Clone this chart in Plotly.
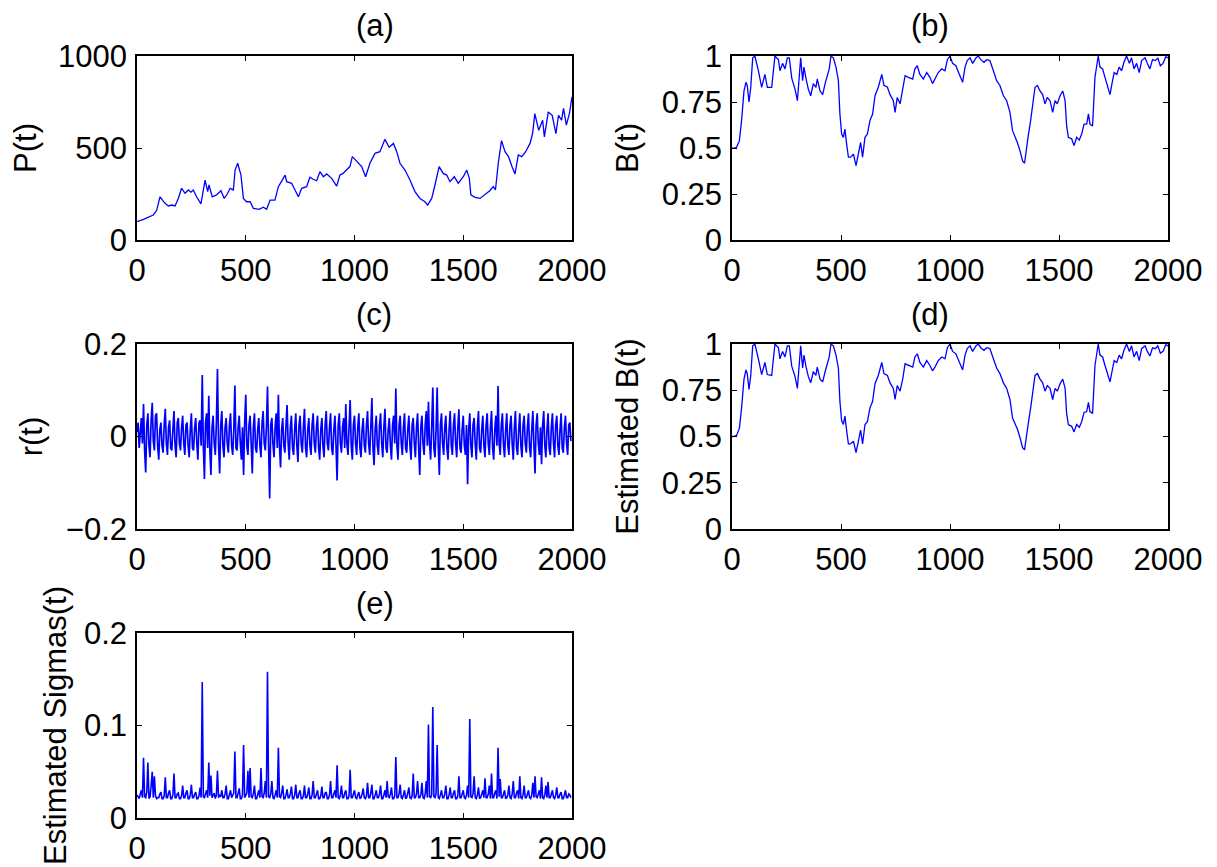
import plotly.graph_objects as go

# (a) price path
t_price = [0, 15, 30, 45, 60, 75, 90, 106, 118, 129,
           144, 160, 175, 190, 205, 221, 236, 248, 259, 274,
           294, 313, 325, 331, 346, 366, 386, 401, 415, 428,
           443, 451, 463, 478, 489, 504, 520, 535, 561, 581,
           596, 612, 634, 650, 665, 681, 688, 711, 742, 757,
           780, 795, 810, 826, 841, 857, 872, 895, 918, 933,
           947, 963, 979, 990, 1010, 1033, 1051, 1071, 1094, 1117,
           1140, 1159, 1179, 1194, 1209, 1232, 1255, 1278, 1301, 1324,
           1336, 1355, 1370, 1389, 1408, 1424, 1439, 1459, 1477, 1500,
           1516, 1528, 1535, 1554, 1577, 1599, 1622, 1638, 1648, 1661,
           1676, 1692, 1708, 1724, 1738, 1753, 1769, 1787, 1807, 1819,
           1829, 1847, 1865, 1873, 1891, 1909, 1926, 1938, 1952, 1961,
           1974, 1988, 2000]
price = [100, 105, 112, 120, 127, 136, 160, 235, 215, 199,
         185, 190, 185, 226, 281, 254, 272, 260, 272, 235,
         196, 326, 263, 299, 235, 245, 268, 226, 250, 281,
         272, 380, 417, 353, 226, 208, 208, 172, 167, 178,
         167, 217, 217, 290, 320, 353, 317, 308, 235, 281,
         290, 341, 330, 322, 371, 344, 359, 335, 293, 353,
         362, 380, 399, 453, 426, 399, 344, 417, 471, 480,
         547, 504, 525, 480, 417, 380, 326, 263, 226, 208,
         190, 226, 299, 399, 362, 353, 317, 344, 308, 344,
         380, 335, 245, 232, 226, 245, 268, 290, 272, 417,
         540, 480, 453, 399, 359, 462, 453, 480, 525, 580,
         687, 596, 651, 560, 696, 678, 578, 678, 651, 715,
         624, 687, 778]

# (b) B(t) and (d) estimated B(t)
t_b = [0, 6, 21, 34, 44, 55, 64, 70, 78, 86,
       95, 105, 121, 136, 151, 162, 182, 190, 197, 213,
       220, 232, 243, 254, 263, 274, 289, 300, 309, 315,
       324, 330, 339, 350, 361, 373, 385, 391, 404, 416,
       427, 437, 446, 454, 465, 477, 488, 495, 503, 511,
       518, 526, 534, 544, 557, 569, 580, 590, 599, 610,
       621, 633, 645, 656, 671, 687, 697, 713, 725, 740,
       748, 758, 771, 783, 794, 809, 829, 839, 850, 862,
       878, 893, 908, 920, 931, 946, 962, 977, 988, 1000,
       1012, 1027, 1043, 1058, 1069, 1079, 1092, 1104, 1119, 1130,
       1141, 1156, 1168, 1183, 1199, 1214, 1229, 1245, 1260, 1275,
       1287, 1300, 1309, 1321, 1333, 1342, 1352, 1359, 1370, 1379,
       1390, 1401, 1413, 1425, 1436, 1446, 1459, 1471, 1482, 1492,
       1505, 1517, 1528, 1535, 1543, 1558, 1569, 1581, 1593, 1604,
       1615, 1627, 1635, 1642, 1654, 1665, 1673, 1680, 1688, 1700,
       1711, 1722, 1734, 1743, 1753, 1765, 1776, 1787, 1798, 1810,
       1823, 1833, 1844, 1856, 1868, 1879, 1895, 1905, 1917, 1929,
       1942, 1953, 1965, 1977, 1990, 2000]
b_true = [0.50, 0.498, 0.504, 0.54, 0.65, 0.81, 0.857, 0.84, 0.75, 0.83,
          0.99, 1.0, 0.92, 0.83, 0.90, 0.83, 0.83, 0.94, 1.0, 0.98,
          0.92, 0.96, 0.93, 0.99, 0.99, 0.88, 0.82, 0.757, 0.90, 0.99,
          0.866, 0.94, 0.88, 0.82, 0.784, 0.85, 0.83, 0.875, 0.81, 0.79,
          0.85, 0.89, 0.93, 1.0, 0.99, 0.94, 0.866, 0.685, 0.576, 0.558,
          0.603, 0.52, 0.45, 0.45, 0.467, 0.404, 0.467, 0.53, 0.45, 0.558,
          0.576, 0.65, 0.685, 0.784, 0.83, 0.90, 0.84, 0.83, 0.79, 0.757,
          0.694, 0.775, 0.74, 0.81, 0.893, 0.884, 0.875, 0.93, 0.947, 0.90,
          0.875, 0.91, 0.884, 0.85, 0.875, 0.91, 0.93, 0.92, 0.98, 1.0,
          0.96, 0.947, 0.90, 0.857, 0.94, 0.975, 0.99, 0.96, 0.99, 1.0,
          0.98, 0.966, 0.98, 0.975, 0.92, 0.866, 0.84, 0.784, 0.757, 0.694,
          0.594, 0.558, 0.53, 0.486, 0.43, 0.417, 0.52, 0.567, 0.65, 0.74,
          0.83, 0.84, 0.81, 0.79, 0.74, 0.775, 0.757, 0.694, 0.757, 0.74,
          0.784, 0.81, 0.757, 0.62, 0.558, 0.55, 0.513, 0.558, 0.543, 0.576,
          0.63, 0.63, 0.685, 0.63, 0.62, 0.884, 0.94, 1.0, 0.94, 0.93,
          0.884, 0.84, 0.79, 0.85, 0.91, 0.90, 0.94, 0.92, 0.966, 1.0,
          0.96, 0.99, 0.93, 0.96, 0.91, 0.975, 0.99, 0.96, 0.93, 0.98,
          0.975, 0.99, 0.947, 0.96, 0.996, 0.99]
b_est = [0.50, 0.50, 0.506, 0.545, 0.655, 0.81, 0.86, 0.84, 0.755, 0.83,
         0.99, 1.0, 0.92, 0.835, 0.90, 0.835, 0.83, 0.94, 1.0, 0.98,
         0.92, 0.96, 0.93, 0.99, 0.99, 0.88, 0.825, 0.76, 0.90, 0.99,
         0.87, 0.94, 0.88, 0.825, 0.79, 0.85, 0.83, 0.875, 0.81, 0.795,
         0.85, 0.89, 0.93, 1.0, 0.99, 0.94, 0.87, 0.69, 0.585, 0.565,
         0.61, 0.53, 0.46, 0.46, 0.475, 0.413, 0.475, 0.535, 0.46, 0.565,
         0.58, 0.655, 0.69, 0.785, 0.83, 0.90, 0.84, 0.83, 0.79, 0.76,
         0.70, 0.775, 0.745, 0.81, 0.893, 0.884, 0.875, 0.93, 0.947, 0.90,
         0.875, 0.91, 0.884, 0.855, 0.875, 0.91, 0.93, 0.92, 0.98, 1.0,
         0.96, 0.947, 0.90, 0.86, 0.94, 0.975, 0.99, 0.96, 0.99, 1.0,
         0.98, 0.966, 0.98, 0.975, 0.92, 0.87, 0.84, 0.79, 0.76, 0.70,
         0.60, 0.565, 0.54, 0.495, 0.44, 0.428, 0.525, 0.57, 0.655, 0.74,
         0.83, 0.84, 0.81, 0.79, 0.745, 0.775, 0.76, 0.70, 0.76, 0.745,
         0.785, 0.81, 0.76, 0.625, 0.565, 0.555, 0.525, 0.565, 0.55, 0.58,
         0.63, 0.635, 0.685, 0.635, 0.625, 0.884, 0.94, 1.0, 0.94, 0.93,
         0.884, 0.84, 0.795, 0.85, 0.91, 0.90, 0.94, 0.92, 0.966, 1.0,
         0.96, 0.99, 0.93, 0.96, 0.91, 0.975, 0.99, 0.96, 0.935, 0.98,
         0.975, 0.99, 0.95, 0.96, 0.996, 0.99]

# (c) returns and (e) estimated sigmas, one reading every 5 steps
t_step = list(range(0, 2000, 5))
returns = [
    0.01, 0.03, -0.025, 0.02, 0.04, -0.015, 0.07, -0.03, -0.078, 0.025, 0.05, -0.02, -0.045, 0.035, 0.073, -0.01, -0.03, 0.045, 0.05, -0.02,
    -0.05, 0.015, 0.03, -0.02, -0.035, 0.025, 0.06, -0.015, -0.04, 0.02, 0.035, -0.025, -0.03, 0.015, 0.055, -0.02, -0.045, 0.03, 0.04, -0.015,
    -0.03, 0.02, 0.045, -0.015, -0.04, 0.025, 0.03, -0.02, -0.045, 0.015, 0.05, -0.025, -0.03, 0.02, 0.04, -0.015, -0.05, 0.03, 0.035, -0.02,
    0.133, -0.02, -0.092, 0.03, 0.05, -0.025, 0.088, -0.03, -0.083, 0.02, 0.045, -0.015, -0.04, 0.03, 0.146, -0.02, -0.08, 0.025, 0.055, -0.02,
    -0.045, 0.02, 0.04, -0.015, -0.035, 0.025, 0.05, -0.02, -0.04, 0.015, 0.11, -0.025, -0.03, 0.02, 0.045, -0.015, -0.05, 0.02, -0.083, 0.03,
    0.09, -0.02, -0.04, 0.025, 0.045, -0.015, -0.08, 0.02, 0.05, -0.025, -0.035, 0.015, 0.04, -0.02, -0.045, 0.03, 0.055, -0.015, -0.03, 0.02,
    0.108, -0.02, -0.134, 0.025, 0.04, -0.015, -0.045, 0.02, 0.05, -0.025, 0.09, -0.02, -0.067, 0.015, 0.04, -0.02, -0.035, 0.025, 0.068, -0.015,
    -0.05, 0.02, 0.045, -0.025, -0.04, 0.015, 0.05, -0.02, -0.055, 0.025, 0.045, -0.015, -0.035, 0.02, 0.06, -0.025, -0.045, 0.015, 0.04, -0.02,
    -0.04, 0.025, 0.05, -0.015, -0.035, 0.02, 0.045, -0.025, -0.05, 0.015, 0.04, -0.02, -0.045, 0.025, 0.055, -0.015, -0.03, 0.02, 0.05, -0.025,
    -0.04, 0.015, 0.045, -0.02, -0.095, 0.025, 0.05, -0.015, -0.035, 0.02, 0.04, -0.025, 0.07, -0.015, -0.04, 0.02, 0.079, -0.02, -0.05, 0.025,
    0.045, -0.015, -0.04, 0.02, 0.05, -0.025, -0.045, 0.015, 0.04, -0.02, -0.035, 0.025, 0.055, -0.015, -0.04, 0.02, 0.083, -0.025, -0.062, 0.015,
    0.045, -0.02, -0.04, 0.025, 0.05, -0.015, -0.045, 0.02, 0.06, -0.025, -0.035, 0.015, 0.04, -0.02, -0.05, 0.025, 0.045, -0.015, 0.104, -0.02,
    -0.05, 0.025, 0.045, -0.015, -0.04, 0.02, 0.05, -0.025, -0.035, 0.015, 0.045, -0.02, -0.05, 0.025, 0.04, -0.015, -0.045, 0.02, 0.05, -0.025,
    -0.083, 0.02, 0.045, -0.015, -0.04, 0.025, 0.055, -0.02, 0.075, -0.015, -0.05, 0.02, 0.106, -0.025, -0.045, 0.015, 0.106, -0.02, -0.083, 0.025,
    0.05, -0.015, -0.04, 0.02, 0.045, -0.025, -0.05, 0.015, 0.055, -0.02, -0.04, 0.025, 0.05, -0.015, -0.045, 0.02, 0.059, -0.025, -0.035, 0.015,
    0.045, -0.02, -0.04, 0.025, -0.103, 0.015, 0.05, -0.02, -0.045, 0.025, 0.04, -0.015, -0.05, 0.02, 0.055, -0.025, -0.035, 0.015, 0.045, -0.02,
    -0.045, 0.025, 0.05, -0.015, -0.04, 0.02, 0.055, -0.025, -0.05, 0.015, 0.045, -0.02, 0.109, -0.015, -0.04, 0.025, 0.05, -0.02, -0.045, 0.015,
    0.05, -0.02, -0.04, 0.025, 0.045, -0.015, -0.05, 0.02, 0.055, -0.025, -0.04, 0.015, 0.05, -0.02, -0.045, 0.025, 0.045, -0.015, -0.035, 0.02,
    0.05, -0.025, -0.045, 0.015, 0.055, -0.02, -0.08, 0.025, 0.05, -0.015, -0.04, 0.02, -0.06, 0.025, 0.055, -0.02, -0.045, 0.015, 0.05, -0.025,
    -0.04, 0.02, 0.05, -0.015, -0.045, 0.025, 0.045, -0.02, -0.04, 0.015, 0.05, -0.025, -0.035, 0.02, 0.045, -0.015, -0.04, 0.025, 0.03, -0.01,
]
sigmas = [
    0.025, 0.022, 0.021, 0.026, 0.03, 0.022, 0.065, 0.023, 0.022, 0.028, 0.06, 0.021, 0.023, 0.035, 0.05, 0.022, 0.045, 0.024, 0.021, 0.022,
    0.022, 0.026, 0.028, 0.021, 0.021, 0.024, 0.044, 0.022, 0.022, 0.027, 0.03, 0.021, 0.021, 0.025, 0.048, 0.022, 0.022, 0.026, 0.027, 0.021,
    0.021, 0.024, 0.035, 0.022, 0.022, 0.027, 0.03, 0.021, 0.021, 0.025, 0.036, 0.022, 0.022, 0.026, 0.028, 0.021, 0.021, 0.024, 0.033, 0.022,
    0.147, 0.023, 0.022, 0.026, 0.03, 0.022, 0.06, 0.024, 0.046, 0.022, 0.024, 0.027, 0.021, 0.025, 0.051, 0.022, 0.025, 0.023, 0.03, 0.022,
    0.022, 0.026, 0.035, 0.021, 0.021, 0.025, 0.03, 0.022, 0.024, 0.027, 0.072, 0.022, 0.022, 0.026, 0.032, 0.021, 0.021, 0.025, 0.079, 0.022,
    0.024, 0.027, 0.051, 0.022, 0.054, 0.023, 0.022, 0.026, 0.035, 0.021, 0.021, 0.025, 0.03, 0.022, 0.054, 0.023, 0.022, 0.027, 0.04, 0.022,
    0.158, 0.023, 0.022, 0.026, 0.04, 0.022, 0.021, 0.025, 0.03, 0.022, 0.076, 0.023, 0.022, 0.027, 0.035, 0.021, 0.021, 0.025, 0.031, 0.022,
    0.022, 0.026, 0.034, 0.021, 0.021, 0.025, 0.036, 0.022, 0.022, 0.027, 0.03, 0.021, 0.021, 0.024, 0.035, 0.022, 0.022, 0.026, 0.033, 0.021,
    0.021, 0.025, 0.04, 0.022, 0.022, 0.026, 0.03, 0.021, 0.021, 0.024, 0.034, 0.022, 0.022, 0.027, 0.028, 0.021, 0.021, 0.025, 0.04, 0.022,
    0.022, 0.026, 0.03, 0.022, 0.057, 0.022, 0.021, 0.025, 0.035, 0.022, 0.022, 0.027, 0.03, 0.021, 0.021, 0.024, 0.052, 0.022, 0.022, 0.026,
    0.03, 0.022, 0.021, 0.025, 0.028, 0.021, 0.022, 0.026, 0.032, 0.022, 0.021, 0.024, 0.038, 0.022, 0.022, 0.027, 0.036, 0.021, 0.021, 0.025,
    0.03, 0.022, 0.022, 0.026, 0.035, 0.021, 0.021, 0.025, 0.03, 0.022, 0.04, 0.023, 0.022, 0.026, 0.033, 0.021, 0.021, 0.024, 0.066, 0.022,
    0.022, 0.026, 0.036, 0.022, 0.021, 0.025, 0.03, 0.021, 0.022, 0.027, 0.033, 0.022, 0.021, 0.024, 0.048, 0.022, 0.022, 0.026, 0.04, 0.022,
    0.022, 0.025, 0.038, 0.022, 0.021, 0.026, 0.04, 0.022, 0.101, 0.023, 0.022, 0.025, 0.12, 0.023, 0.022, 0.026, 0.079, 0.022, 0.021, 0.025,
    0.03, 0.022, 0.022, 0.026, 0.035, 0.021, 0.021, 0.025, 0.033, 0.022, 0.022, 0.027, 0.03, 0.021, 0.021, 0.024, 0.045, 0.022, 0.022, 0.026,
    0.03, 0.022, 0.021, 0.025, 0.035, 0.022, 0.107, 0.023, 0.022, 0.026, 0.045, 0.022, 0.021, 0.025, 0.033, 0.021, 0.022, 0.026, 0.03, 0.022,
    0.043, 0.022, 0.022, 0.026, 0.035, 0.021, 0.048, 0.022, 0.022, 0.027, 0.03, 0.021, 0.076, 0.023, 0.042, 0.022, 0.022, 0.026, 0.03, 0.021,
    0.022, 0.025, 0.035, 0.022, 0.021, 0.026, 0.04, 0.022, 0.022, 0.027, 0.03, 0.021, 0.045, 0.022, 0.021, 0.025, 0.035, 0.022, 0.022, 0.026,
    0.03, 0.022, 0.021, 0.025, 0.038, 0.022, 0.045, 0.023, 0.022, 0.026, 0.03, 0.021, 0.044, 0.022, 0.021, 0.025, 0.035, 0.022, 0.039, 0.022,
    0.022, 0.026, 0.03, 0.022, 0.021, 0.025, 0.033, 0.022, 0.022, 0.026, 0.028, 0.021, 0.021, 0.025, 0.03, 0.022, 0.022, 0.026, 0.025, 0.022,
]

W, H = 1217, 867
PAGE = 8  # the browser puts an 8px body margin round the figure
FONT = "Liberation Sans, Arial, Helvetica, sans-serif"
FS = 31
BLUE = "#0000ff"

# panel boxes as seen in the picture: left, right, top, bottom
boxes = {
    "a": (137, 572, 56, 240),
    "b": (732, 1168, 56, 240),
    "c": (137, 572, 344, 529),
    "d": (732, 1168, 344, 529),
    "e": (137, 572, 633, 818),
}

unit_ticks = [0, 0.25, 0.5, 0.75, 1]
unit_text = ["0", "0.25", "0.5", "0.75", "1"]
panels = [
    ("a", t_price, price, "P(t)", [0, 1000], [0, 500, 1000], ["0", "500", "1000"], 14, 1.3),
    ("b", t_b, b_true, "B(t)", [0, 1], unit_ticks, unit_text, 14, 1.3),
    ("c", t_step, returns, "r(t)", [-0.2, 0.2], [-0.2, 0, 0.2], ["\u22120.2", "0", "0.2"], 14, 1.7),
    ("d", t_b, b_est, "Estimated B(t)", [0, 1], unit_ticks, unit_text, 14, 1.3),
    ("e", t_step, sigmas, "Estimated Sigmas(t)", [0, 0.2], [0, 0.1, 0.2], ["0", "0.1", "0.2"], 8, 1.6),
]

fig = go.Figure()
layout = dict(
    width=W, height=H, autosize=False,
    margin=dict(l=0, r=0, t=0, b=0, pad=0),
    paper_bgcolor="white", plot_bgcolor="white",
    showlegend=False,
    font=dict(family=FONT, size=FS, color="black"),
    annotations=[],
)

axis_style = dict(
    showgrid=False, zeroline=False, showline=True, linecolor="black", linewidth=1.5,
    mirror="ticks", ticks="inside", ticklen=5, tickwidth=1.2, tickcolor="black",
    tickfont=dict(family=FONT, size=FS, color="black"), automargin=False,
)

for i, (key, xs, ys, ytitle, yrange, yticks, ytext, standoff, lw) in enumerate(panels, start=1):
    left, right, top, bottom = (v - PAGE for v in boxes[key])
    sfx = "" if i == 1 else str(i)
    fig.add_trace(go.Scatter(x=xs, y=ys, mode="lines", line=dict(color=BLUE, width=lw),
                             xaxis="x" + sfx, yaxis="y" + sfx))
    layout["xaxis" + sfx] = dict(
        axis_style, domain=[left / W, right / W], range=[0, 2000],
        tickvals=[0, 500, 1000, 1500, 2000], anchor="y" + sfx, ticklabelstandoff=2,
    )
    layout["yaxis" + sfx] = dict(
        axis_style, domain=[1 - bottom / H, 1 - top / H], range=yrange,
        tickvals=yticks, ticktext=ytext, anchor="x" + sfx, ticklabelstandoff=2,
        title=dict(text=ytitle, font=dict(family=FONT, size=FS), standoff=standoff),
    )
    layout["annotations"].append(dict(
        text="(" + key + ")", xref="paper", yref="paper", showarrow=False,
        x=(left + right) / 2 / W, y=1 - (top - 30) / H, yanchor="middle", borderpad=0,
        font=dict(family=FONT, size=FS, color="black"),
    ))

fig.update_layout(**layout)
fig.write_html("out.html")
